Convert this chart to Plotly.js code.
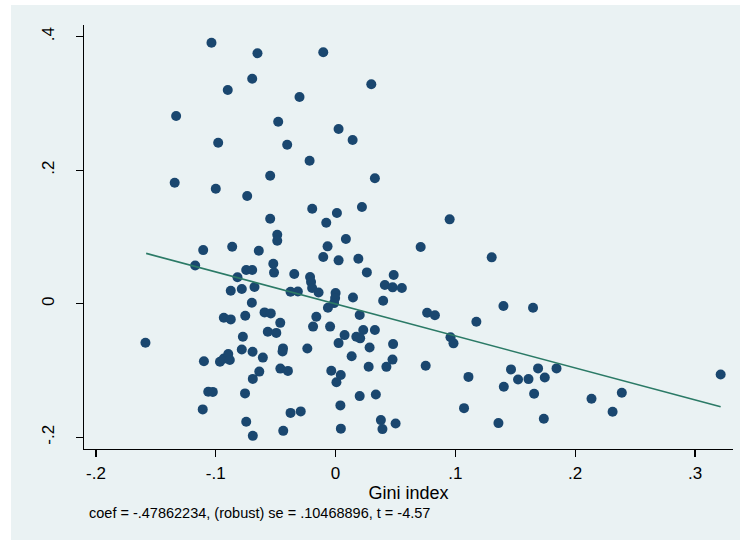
<!DOCTYPE html>
<html>
<head>
<meta charset="utf-8">
<script src="https://cdn.plot.ly/plotly-3.0.1.min.js"></script>
<style>html,body{margin:0;padding:0;background:#fff;}#chart{width:740px;height:540px;}</style>
</head>
<body>
<div id="chart"></div>
<script>
// Residualised scatter: x = Gini index, y = outcome residual
var giniX = [
 -0.1036,-0.0652,-0.0103,-0.0696,-0.0900,0.0298,-0.0301,-0.1331,-0.0479,0.0025,
 -0.0980,-0.0404,0.0142,-0.0217,-0.1343,-0.1000,-0.0546,-0.0738,0.0328,0.0952,
 0.0710,0.1303,-0.0195,0.0011,0.0220,-0.0546,-0.0078,-0.0487,-0.0487,0.0086,
 -0.1105,-0.0863,-0.0641,-0.0067,-0.0103,0.0025,0.0190,-0.1172,-0.0520,-0.0746,
 -0.0696,-0.0514,-0.0345,-0.0213,-0.0205,-0.0196,-0.0142,-0.0819,-0.0875,-0.0783,
 -0.0677,-0.0376,-0.0315,-0.0699,-0.0933,-0.0875,-0.0754,-0.0593,-0.0541,-0.0462,
 -0.0566,-0.0495,-0.0774,-0.1587,-0.0783,-0.0693,-0.0607,-0.0439,-0.0443,-0.0236,
 -0.1099,-0.0965,-0.0933,-0.0896,-0.0883,-0.0637,-0.0691,-0.0461,-0.0398,-0.1063,
 -0.1025,-0.0756,-0.1109,-0.0376,-0.0291,-0.0746,-0.0691,-0.0437,-0.0161,-0.0188,
 -0.0064,0.0000,-0.0004,-0.0013,0.0145,0.0201,0.0231,0.0173,0.0205,0.0075,
 -0.0046,0.0025,0.0134,-0.0036,0.0043,0.0007,0.0201,0.0040,0.0044,0.0261,
 0.0485,0.0411,0.0476,0.0553,0.0397,0.0328,0.0284,0.0480,0.0764,0.0829,
 0.1175,0.0959,0.0984,0.1401,0.1648,0.0475,0.0424,0.0276,0.0752,0.1109,
 0.1464,0.1690,0.1844,0.1523,0.1610,0.1746,0.3214,0.1404,0.1657,0.2136,
 0.2389,0.0336,0.1072,0.2312,0.0378,0.0391,0.0501,0.1359,0.1738
];
var residY = [
 0.3910,0.3751,0.3766,0.3371,0.3202,0.3287,0.3097,0.2812,0.2727,0.2617,
 0.2412,0.2382,0.2452,0.2142,0.1813,0.1723,0.1918,0.1613,0.1879,0.1264,
 0.0849,0.0695,0.1423,0.1359,0.1449,0.1273,0.1213,0.1034,0.0944,0.0969,
 0.0804,0.0854,0.0794,0.0860,0.0700,0.0650,0.0674,0.0572,0.0599,0.0505,
 0.0505,0.0467,0.0445,0.0400,0.0325,0.0235,0.0168,0.0396,0.0195,0.0220,
 0.0250,0.0180,0.0183,0.0015,-0.0210,-0.0234,-0.0180,-0.0129,-0.0144,-0.0286,
 -0.0419,-0.0436,-0.0494,-0.0584,-0.0686,-0.0719,-0.0806,-0.0668,-0.0716,-0.0671,
 -0.0861,-0.0869,-0.0821,-0.0751,-0.0843,-0.1016,-0.1125,-0.0971,-0.1005,-0.1318,
 -0.1320,-0.1342,-0.1582,-0.1634,-0.1612,-0.1768,-0.1978,-0.1903,-0.0195,-0.0342,
 -0.0060,0.0160,0.0085,0.0010,0.0093,-0.0169,-0.0394,-0.0494,-0.0518,-0.0469,
 -0.0342,-0.0589,-0.0787,-0.1004,-0.1068,-0.1176,-0.1383,-0.1522,-0.1870,0.0470,
 0.0430,0.0280,0.0246,0.0235,0.0045,-0.0394,-0.0656,-0.0604,-0.0135,-0.0172,
 -0.0270,-0.0502,-0.0593,-0.0034,-0.0060,-0.0836,-0.0945,-0.0944,-0.0929,-0.1095,
 -0.0983,-0.0968,-0.0968,-0.1133,-0.1128,-0.1103,-0.1058,-0.1243,-0.1348,-0.1423,
 -0.1333,-0.1360,-0.1563,-0.1618,-0.1742,-0.1877,-0.1792,-0.1787,-0.1723
];
// fitted line endpoints
var fitX = [-0.1581, 0.3214];
var fitY = [0.0755, -0.1543];
var xTickVals = [-0.2, -0.1, 0, 0.1, 0.2, 0.3];
var xTickText = ['-.2', '-.1', '0', '.1', '.2', '.3'];
var yTickVals = [-0.2, 0, 0.2, 0.4];
var yTickText = ['-.2', '0', '.2', '.4'];
var xLabel = 'Gini index';
var note = 'coef = -.47862234, (robust) se = .10468896, t = -4.57';

var font = 'Arial, "Liberation Sans", Helvetica, sans-serif';
var traces = [
  {x: giniX, y: residY, type: 'scatter', mode: 'markers',
   marker: {color: '#1a476f', size: 10, line: {width: 0}},
   hoverinfo: 'skip', showlegend: false},
  {x: fitX, y: fitY, type: 'scatter', mode: 'lines',
   line: {color: '#2b7a66', width: 1.6},
   hoverinfo: 'skip', showlegend: false}
];
var layout = {
  width: 740, height: 540,
  margin: {l: 84, r: 7, t: 25, b: 91, pad: 0},
  paper_bgcolor: '#ffffff',
  plot_bgcolor: '#ffffff',
  font: {family: font, color: '#000'},
  showlegend: false,
  xaxis: {
    range: [-0.21, 0.3317], tickvals: xTickVals, ticktext: xTickText,
    showgrid: false, zeroline: false, showline: true, linecolor: '#000', linewidth: 1.2,
    ticks: 'outside', ticklen: 7, tickwidth: 1.2, tickcolor: '#000',
    tickfont: {size: 17, family: font, color: '#000'}, ticklabelstandoff: 1,
    title: {text: xLabel, font: {size: 18, family: font, color: '#000'}, standoff: 4}
  },
  yaxis: {
    range: [-0.2175, 0.4175], tickvals: yTickVals, ticktext: yTickText,
    showgrid: true, gridcolor: '#eaf2f3', gridwidth: 1.5,
    zeroline: false, showline: true, linecolor: '#000', linewidth: 1.2,
    ticks: 'outside', ticklen: 7, tickwidth: 1.2, tickcolor: '#000',
    tickangle: -90, tickfont: {size: 17, family: font, color: '#000'},
    ticklabelstandoff: 15
  },
  shapes: [
    {type: 'rect', xref: 'paper', yref: 'paper', layer: 'below',
     x0: -73/649, x1: 1.02, y0: -0.3, y1: (540 - 25 - 91 + 20) / 424,
     fillcolor: '#eaf2f3', line: {width: 0}}
  ],
  annotations: [
    {text: note, xref: 'paper', yref: 'paper', x: 3/649, y: -64/424,
     xanchor: 'left', yanchor: 'middle', showarrow: false,
     font: {size: 14.5, family: font, color: '#000'}}
  ]
};
Plotly.newPlot('chart', traces, layout, {staticPlot: true, displayModeBar: false});
</script>
</body>
</html>
